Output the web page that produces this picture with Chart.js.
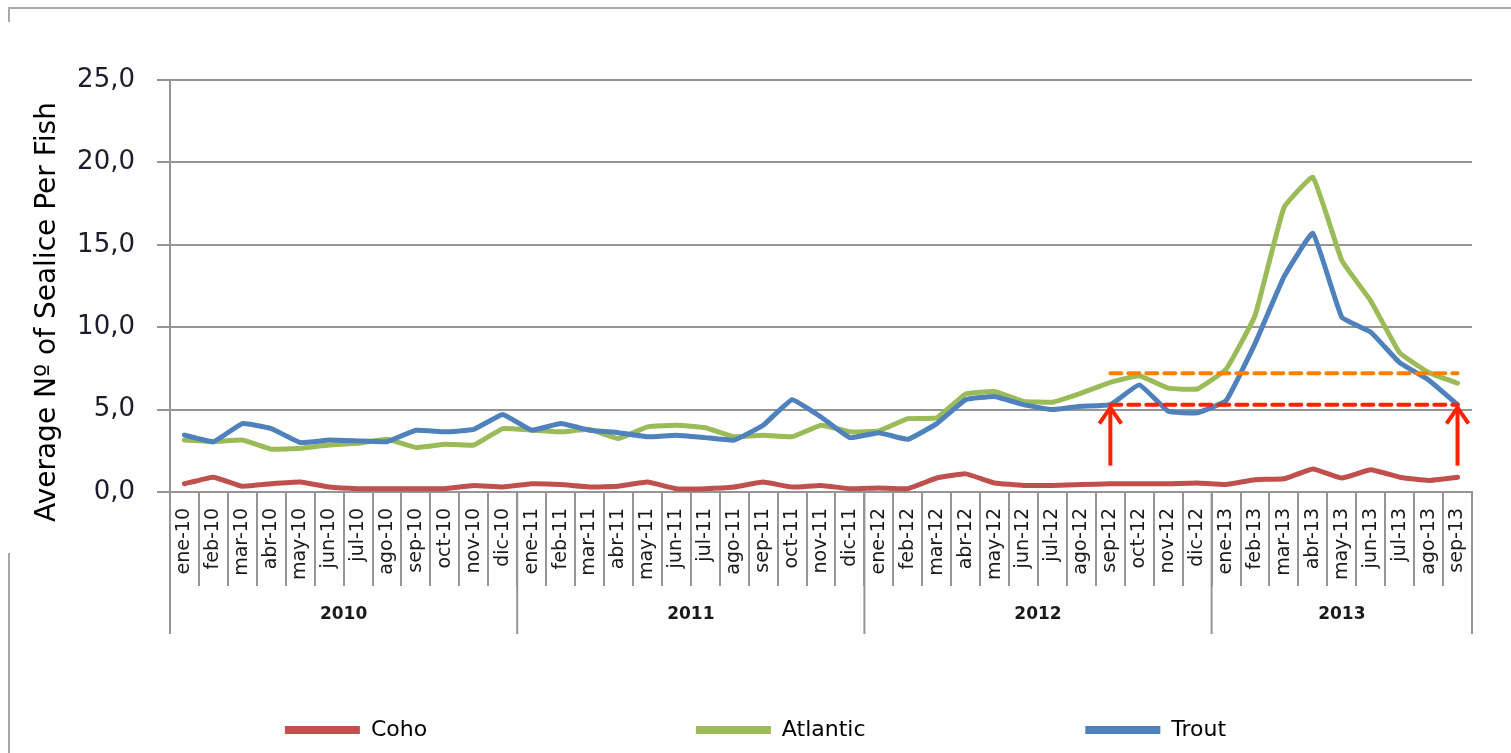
<!DOCTYPE html>
<html>
<head>
<meta charset="utf-8">
<script src="https://cdn.jsdelivr.net/npm/chart.js@4.4.1/dist/chart.umd.min.js"></script>
<style>
html, body { margin: 0; padding: 0; background: #fff; }
#wrap { width: 1511px; height: 753px; }
</style>
</head>
<body>
<div id="wrap"><canvas id="myChart"></canvas></div>
<script>
const months = ['ene', 'feb', 'mar', 'abr', 'may', 'jun', 'jul', 'ago', 'sep', 'oct', 'nov', 'dic'];
const years = ['2010', '2011', '2012', '2013'];
const monthsPerYear = [12, 12, 12, 9];

const seriesNames = ['Coho', 'Atlantic', 'Trout'];
const coho = [
    0.5, 0.9, 0.35, 0.5, 0.6, 0.3, 0.2, 0.2, 0.2, 0.2, 0.4, 0.3,
    0.5, 0.45, 0.3, 0.35, 0.6, 0.2, 0.2, 0.3, 0.6, 0.3, 0.4, 0.2,
    0.25, 0.2, 0.85, 1.1, 0.55, 0.4, 0.4, 0.45, 0.5, 0.5, 0.5, 0.55,
    0.45, 0.75, 0.8, 1.4, 0.85, 1.35, 0.9, 0.7, 0.9
];
const atlantic = [
    3.15, 3.05, 3.15, 2.6, 2.65, 2.85, 2.95, 3.2, 2.7, 2.9, 2.85, 3.85,
    3.75, 3.65, 3.8, 3.25, 3.95, 4.05, 3.9, 3.35, 3.45, 3.35, 4.05, 3.65,
    3.7, 4.45, 4.5, 5.95, 6.1, 5.5, 5.45, 6.0, 6.65, 7.05, 6.3, 6.25,
    7.45, 10.7, 17.25, 19.1, 14.05, 11.6, 8.45, 7.25, 6.6
];
const trout = [
    3.45, 3.05, 4.15, 3.85, 3.0, 3.15, 3.1, 3.05, 3.75, 3.65, 3.8, 4.7,
    3.75, 4.15, 3.75, 3.6, 3.35, 3.45, 3.3, 3.15, 4.05, 5.6, 4.55, 3.3,
    3.6, 3.2, 4.15, 5.6, 5.8, 5.3, 5.0, 5.2, 5.3, 6.5, 4.9, 4.8,
    5.55, 9.0, 13.05, 15.7, 10.6, 9.7, 7.85, 6.8, 5.3
];

// reference marks drawn over the last year
const markFrom = 'sep-12';
const markTo = 'sep-13';
const orangeLevel = 7.2;
const redLevel = 5.3;
const arrowBase = 1.6;

const yTicks = [0, 5, 10, 15, 20, 25];

let labels = [];
years.forEach((y, i) => {
    for (let m = 0; m < monthsPerYear[i]; m++) {
        labels.push(months[m] + '-' + y.slice(2));
    }
});

const fromIdx = labels.indexOf(markFrom);
const toIdx = labels.indexOf(markTo);
function levelLine(v) {
    return labels.map((_, i) => (i >= fromIdx && i <= toIdx) ? v : null);
}

const FONT = "'DejaVu Sans', sans-serif";
const legendSpaces = [37, 30, 0];

const decor = {
    id: 'decor',
    beforeDraw(chart) {
        const c = chart.ctx;
        c.save();
        c.fillStyle = '#fff';
        c.fillRect(0, 0, chart.width, chart.height);
        c.strokeStyle = '#a8a8a8';
        c.lineWidth = 2;
        c.beginPath();
        c.moveTo(9, chart.height);
        c.lineTo(9, 553);
        c.moveTo(9, 22);
        c.lineTo(9, 8);
        c.lineTo(chart.width, 8);
        c.stroke();
        c.restore();
    },
    afterDatasetsDraw(chart) {
        const c = chart.ctx;
        const xs = chart.scales.x, ys = chart.scales.y;
        c.save();
        c.strokeStyle = '#ff2200';
        c.lineWidth = 4;
        c.lineCap = 'butt';
        [fromIdx, toIdx].forEach(i => {
            const x = xs.getPixelForValue(i);
            const y0 = ys.getPixelForValue(arrowBase);
            const y1 = ys.getPixelForValue(redLevel);
            c.beginPath();
            c.moveTo(x, y0);
            c.lineTo(x, y1 + 2);
            c.stroke();
            c.beginPath();
            c.moveTo(x - 11, y1 + 19);
            c.lineTo(x, y1 + 3);
            c.lineTo(x + 11, y1 + 19);
            c.stroke();
        });
        c.restore();
    },
    afterDraw(chart) {
        const c = chart.ctx;
        const xs = chart.scales.x;
        const area = chart.chartArea;
        c.save();
        // year separators and labels
        c.strokeStyle = '#959595';
        c.lineWidth = 2;
        let start = 0;
        const bounds = [0];
        monthsPerYear.forEach(n => { start += n; bounds.push(start); });
        bounds.forEach(b => {
            const x = xs.getPixelForValue(b - 0.5);
            c.beginPath();
            c.moveTo(x, area.bottom);
            c.lineTo(x, area.bottom + 142);
            c.stroke();
        });
        c.fillStyle = '#1a1a1a';
        c.font = 'bold 17px ' + FONT;
        c.textAlign = 'center';
        c.textBaseline = 'middle';
        years.forEach((y, i) => {
            const x = (xs.getPixelForValue(bounds[i] - 0.5) + xs.getPixelForValue(bounds[i + 1] - 0.5)) / 2;
            c.fillText(y, x, area.bottom + 123);
        });
        // y axis title
        c.translate(55, 312);
        c.rotate(-Math.PI / 2);
        c.font = '28px ' + FONT;
        c.fillStyle = '#000';
        c.textBaseline = 'alphabetic';
        c.fillText('Average Nº of Sealice Per Fish', 0, 0);
        c.restore();
    }
};

const ctx = document.getElementById('myChart').getContext('2d');
const chart = new Chart(ctx, {
    type: 'line',
    data: {
        labels: labels,
        datasets: [
            { label: seriesNames[0], data: coho, borderColor: '#c0504d', backgroundColor: '#c0504d', order: 3 },
            { label: seriesNames[1], data: atlantic, borderColor: '#9bbb59', backgroundColor: '#9bbb59', order: 2 },
            { label: seriesNames[2], data: trout, borderColor: '#4f81bd', backgroundColor: '#4f81bd', order: 1 },
            { label: 'orange', data: levelLine(orangeLevel), borderColor: '#ff7f00', borderWidth: 4, borderDash: [11, 7], order: 0, tension: 0 },
            { label: 'red', data: levelLine(redLevel), borderColor: '#ff2200', borderWidth: 4, borderDash: [11, 7], order: 0, tension: 0 }
        ]
    },
    options: {
        responsive: true,
        maintainAspectRatio: false,
        animation: false,
        layout: { padding: { top: 80, left: 0, right: 0, bottom: 2 } },
        elements: {
            point: { radius: 0, hoverRadius: 0 },
            line: { borderWidth: 5, tension: 0.1, borderJoinStyle: 'round', borderCapStyle: 'round' }
        },
        scales: {
            x: {
                offset: true,
                grid: { drawOnChartArea: false, drawTicks: true, tickLength: 94, color: '#959595', lineWidth: 2, offset: true },
                border: { display: true, color: '#959595', width: 2 },
                ticks: {
                    autoSkip: false, minRotation: 90, maxRotation: 90, padding: -78,
                    color: '#1a1a1a', font: { family: FONT, size: 19 }
                },
                afterFit(s) { s.height = 217; }
            },
            y: {
                min: 0, max: 25,
                afterBuildTicks(s) { s.ticks = yTicks.map(v => ({ value: v })); },
                grid: { color: '#959595', lineWidth: 2, tickLength: 13 },
                border: { display: true, color: '#959595', width: 2 },
                ticks: {
                    padding: 22, color: '#1c1c2c',
                    font: { family: FONT, size: 26 },
                    callback: v => v.toFixed(1).replace('.', ',')
                },
                afterFit(s) { s.width = 170; }
            },
            yR: {
                position: 'right', display: true,
                grid: { display: false, drawTicks: false },
                border: { display: false },
                ticks: { display: false },
                afterFit(s) { s.width = 39; }
            }
        },
        plugins: {
            tooltip: { enabled: false },
            legend: {
                position: 'bottom',
                labels: {
                    boxWidth: 75, boxHeight: 8, padding: 10,
                    color: '#000', font: { family: FONT, size: 22 },
                    generateLabels(chart) {
                        const items = Chart.defaults.plugins.legend.labels.generateLabels(chart);
                        return items
                            .filter(it => it.datasetIndex < seriesNames.length)
                            .sort((a, b) => a.datasetIndex - b.datasetIndex)
                            .map(it => Object.assign(it, {
                                text: seriesNames[it.datasetIndex] + ' '.repeat(legendSpaces[it.datasetIndex]),
                                lineWidth: 0
                            }));
                    }
                }
            }
        }
    },
    plugins: [decor]
});
</script>
</body>
</html>
